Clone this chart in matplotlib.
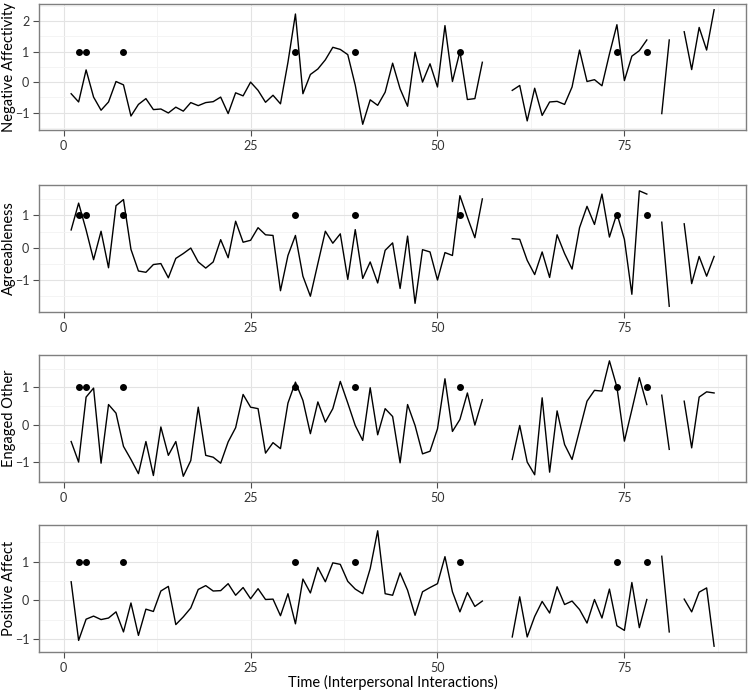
import numpy as np
import matplotlib
matplotlib.use('Agg')
import matplotlib.pyplot as plt
from matplotlib.ticker import MultipleLocator

plt.rcParams['font.family'] = ['Lato', 'DejaVu Sans']

nan = np.nan
time = np.arange(1, 88)

neg_affect = [-0.38, -0.65, 0.40, -0.49, -0.92, -0.65, 0.02, -0.09, -1.11, -0.73,
              -0.54, -0.90, -0.88, -1.01, -0.82, -0.95, -0.67, -0.77, -0.67, -0.64,
              -0.49, -1.03, -0.35, -0.45, 0.00, -0.27, -0.66, -0.43, -0.71, 0.65,
              2.23, -0.38, 0.25, 0.43, 0.73, 1.14, 1.07, 0.90, -0.10, -1.38,
              -0.58, -0.76, -0.33, 0.62, -0.22, -0.79, 0.98, 0.00, 0.60, -0.16,
              1.85, 0.02, 1.00, -0.57, -0.54, 0.65,
              nan, nan, nan,
              -0.27, -0.11, -1.27, -0.20, -1.09, -0.65, -0.63, -0.73, -0.16, 1.05,
              0.02, 0.08, -0.12, 0.92, 1.88, 0.05, 0.85, 1.03, 1.38,
              nan, -1.03, 1.38, nan,
              1.65, 0.41, 1.79, 1.05, 2.37]

agreeable = [0.55, 1.38, 0.55, -0.37, 0.51, -0.62, 1.30, 1.49, -0.05, -0.72,
             -0.76, -0.52, -0.49, -0.93, -0.33, -0.18, -0.01, -0.44, -0.63, -0.44,
             0.25, -0.31, 0.82, 0.17, 0.23, 0.62, 0.40, 0.38, -1.33, -0.24,
             0.38, -0.88, -1.50, -0.49, 0.51, 0.14, 0.43, -0.98, 0.56, -0.95,
             -0.44, -1.09, -0.08, 0.15, -1.26, 0.36, -1.72, -0.06, -0.13, -1.00,
             -0.15, -0.24, 1.61, 0.94, 0.31, 1.51,
             nan, nan, nan,
             0.28, 0.26, -0.39, -0.83, -0.13, -0.92, 0.40, -0.18, -0.66, 0.62,
             1.28, 0.72, 1.66, 0.33, 1.06, 0.26, -1.44, 1.76, 1.66,
             nan, 0.79, -1.81, nan,
             0.74, -1.11, -0.27, -0.88, -0.27]

engaged = [-0.45, -1.00, 0.74, 0.98, -1.03, 0.54, 0.31, -0.58, -0.93, -1.31,
           -0.45, -1.36, -0.06, -0.82, -0.45, -1.38, -0.96, 0.47, -0.82, -0.87,
           -1.03, -0.46, -0.08, 0.81, 0.47, 0.43, -0.76, -0.48, -0.64, 0.58,
           1.14, 0.65, -0.24, 0.61, 0.07, 0.43, 1.16, 0.58, -0.02, -0.42,
           0.99, -0.27, 0.43, 0.22, -1.02, 0.54, -0.02, -0.78, -0.71, -0.11,
           1.23, -0.18, 0.14, 0.85, -0.01, 0.67,
           nan, nan, nan,
           -0.93, -0.02, -1.00, -1.34, 0.72, -1.27, 0.37, -0.53, -0.93, -0.15,
           0.63, 0.92, 0.90, 1.71, 1.01, -0.44, 0.40, 1.26, 0.54,
           nan, 0.79, -0.66, nan,
           0.63, -0.62, 0.74, 0.88, 0.85]

pos_affect = [0.48, -1.04, -0.49, -0.41, -0.50, -0.46, -0.30, -0.82, -0.07, -0.91,
              -0.23, -0.29, 0.24, 0.36, -0.63, -0.43, -0.20, 0.28, 0.38, 0.24,
              0.25, 0.43, 0.13, 0.33, 0.04, 0.30, 0.02, 0.03, -0.40, 0.17,
              -0.61, 0.55, 0.19, 0.85, 0.48, 0.97, 0.93, 0.49, 0.29, 0.17,
              0.82, 1.80, 0.17, 0.13, 0.71, 0.26, -0.39, 0.22, 0.33, 0.43,
              1.13, 0.22, -0.30, 0.20, -0.16, -0.02,
              nan, nan, nan,
              -0.95, 0.09, -0.95, -0.42, -0.03, -0.33, 0.35, -0.11, -0.02, -0.24,
              -0.59, 0.02, -0.46, 0.29, -0.66, -0.78, 0.46, -0.71, 0.02,
              nan, 1.14, -0.82, nan,
              0.03, -0.30, 0.21, 0.32, -1.19]

event_times = [2, 3, 8, 31, 39, 53, 74, 78]
event_level = [1, 1, 1, 1, 1, 1, 1, 1]

labels = ['Negative Affectivity', 'Agreeableness', 'Engaged Other', 'Positive Affect']
series = [neg_affect, agreeable, engaged, pos_affect]

fig = plt.figure(figsize=(7.5, 6.9), dpi=100)
left, width = 0.052, 0.943
bottoms = [0.8116, 0.5478, 0.3014, 0.0551]
heights = [0.1826, 0.184, 0.184, 0.184]

for i, (lab, vals) in enumerate(zip(labels, series)):
    ax = fig.add_axes([left, bottoms[i], width, heights[i]])
    ax.plot(time, np.array(vals, dtype=float), color='black', lw=1.0)
    ax.plot(event_times, event_level, 'o', color='black', ms=4)
    ax.set_xlim(-3.3, 91.3)
    ax.margins(y=0.05)
    ax.xaxis.set_major_locator(MultipleLocator(25))
    ax.xaxis.set_minor_locator(MultipleLocator(12.5))
    ax.yaxis.set_major_locator(MultipleLocator(1))
    ax.yaxis.set_minor_locator(MultipleLocator(0.5))
    ax.grid(which='major', color='#e3e3e3', lw=0.8)
    ax.grid(which='minor', color='#f3f3f3', lw=0.6)
    ax.set_axisbelow(True)
    for s in ax.spines.values():
        s.set_color('#7f7f7f')
        s.set_linewidth(1.0)
    ax.tick_params(which='major', length=4, pad=3, color='#4d4d4d', labelsize=9, labelcolor='#333333')
    ax.tick_params(which='minor', length=0)
    ax.set_ylabel(lab, fontsize=10.5, va='center')
    ax.yaxis.set_label_coords(-0.043, 0.5)

ax.set_xlabel('Time (Interpersonal Interactions)', fontsize=10.5, labelpad=1)

fig.savefig('out.png', dpi=100)
